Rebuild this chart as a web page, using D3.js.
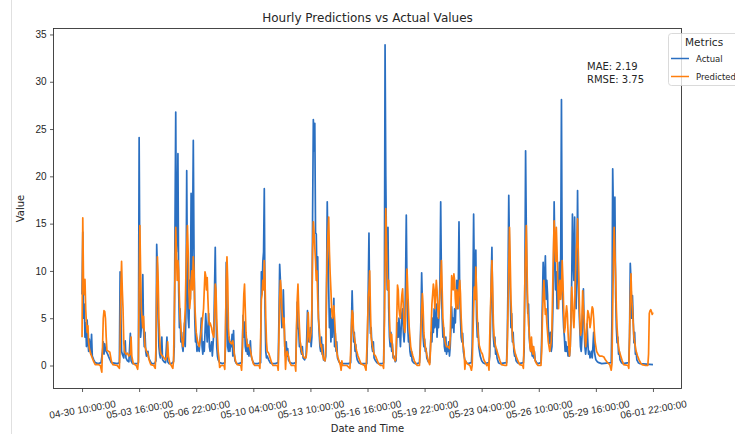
<!DOCTYPE html>
<html>
<head>
<meta charset="utf-8">
<script src="https://cdn.jsdelivr.net/npm/d3@7"></script>
<style>
    body { margin: 0; background: #fff; }
    svg { display: block; font-family: "DejaVu Sans", sans-serif; }
</style>
</head>
<body>
<div id="chart"></div>
<script>
// first timestamp of the series, hour offsets below are counted from it
const startTime = "2024-04-30 10:00:00";
const tickStepHours = 78;
const tickCount = 11;
const seriesNames = ["Actual", "Predicted"];
const metricLines = ["MAE: 2.19", "RMSE: 3.75"];

// [hours since start, value]
const actualPoints = [
    [0,7.5],[1,14.1],[2,5],[3,6.5],[4,3],[5,4.5],[6,2],[7,4.8],[8,2.5],[9,1.5],[10,2.8],[12,1.2],[13,3.3],[14,1],[16,0.6],[18,0.3],
    [22,0.2],[26,0.3],[28,1.5],[29,2.5],[30,1.2],[31,2.3],[32,1.6],[33,1.5],[35,1.2],[37,0.8],[40,0.3],
    [48,0.2],[51,0.3],[52,9.9],[53,6],[54,1.5],[55,1.2],[57,0.8],[59,2.6],[60,0.8],[62,0.5],[64,0.4],[66,3.4],[67,0.5],[69,0.2],[72,0.2],
    [76,0.2],[77,0.3],[78,24.1],[79,10],[80,3],[81,4],[82,6],[83,9.6],[84,4],[85,2],[86,3.5],[87,1.5],[88,1],[90,1.5],[91,0.8],[93,0.5],[95,0.2],
    [99,0.2],[101,0.5],[102,12.8],[103,10],[104,5],[105,2],[106,1.2],[107,0.8],[109,3.0],[110,0.6],[112,0.4],[114,0.3],[116,3.0],[117,0.4],[119,0.2],
    [122,0.2],[125,0.4],[126,2],[127,15],[128,26.8],[129,12],[130,14],[131,22.4],[132,8],[133,4],[134,6],[135,2.5],[136,3.5],[137,2],[138,1.5],[139,3],[140,4.5],[141,2],[142,6],[143,20.6],[144,8],[145,5],[146,4],[147,9],[148,7],[149,18.2],[150,10],[151,14],[152,23.8],[153,11.7],[154,5],[155,2.5],[156,3],[157,1.5],[158,2],[160,1.5],[161,2.5],[162,3.5],[163,5.0],[164,2],[165,1.2],[166,2.5],[167,1.5],[168,3.5],[169,5.5],[170,4],[171,2.5],[172,3.8],[173,5.5],[174,2.0],[175,1.5],[177,2.5],[178,1.0],[180,3.5],[181,8],[182,12.5],[183,6],[184,2],[185,1],[186,0.6],[188,0.3],
    [192,0.2],[195,0.3],[196,2],[197,10.9],[198,6],[199,2],[200,1.5],[201,3],[202,1.5],[203,2.5],[204,2],[205,3.3],[206,1],[207,3.7],[208,1.2],[209,0.5],[211,0.2],
    [214,0.2],[218,0.3],[219,2],[220,5.3],[221,3],[222,4.6],[223,2],[224,1.5],[225,2.8],[226,1.2],[227,2],[228,1],[229,1.8],[230,2.6],[231,1.0],[233,0.5],[235,0.2],
    [240,0.2],[244,0.3],[245,9.9],[246,8],[247,11],[248,12],[249,18.7],[250,6],[251,1.5],[252,0.8],[253,1],[255,0.6],[257,0.3],[259,0.2],
    [264,0.2],[268,0.3],[269,5],[270,10.7],[271,9],[272,6],[273,4],[274,5],[275,8],[276,5],[277,2],[278,1],[279,2.5],[280,1],[281,1.8],[282,0.6],[284,0.3],
    [288,0.2],[292,0.3],[293,3],[294,6.7],[295,4],[296,3.8],[297,2],[298,2.5],[299,1.5],[300,1.2],[301,2],[302,0.8],[304,0.6],[306,1],[307,3],[308,5.8],[309,3],[310,2.5],[311,3],[312,4],
    [313,2],[314,3],[315,16],[316,26.0],[317,22.7],[318,25.6],[319,14],[320,13.9],[321,9],[322,11.5],[323,5],[324,3.4],[325,2],[326,1.5],[327,3],[328,1.2],[329,2.2],[330,0.6],
    [332,0.5],[333,1],[334,8],[335,17.3],[336,12],[337,8],[338,4],[339,6],[340,2.5],[341,5],[342,3],[343,4.5],[344,7.1],[345,2],[346,3.4],[347,1.5],[348,2.5],[349,0.8],[351,0.4],[353,0.2],[355,0.3],[356,0.2],
    [364,0.2],[367,0.3],[368,4],[369,7.9],[370,5],[371,2.5],[372,3.5],[373,1.5],[374,2.2],[375,1],[376,0.6],[378,0.3],[380,0.2],
    [389,0.2],[390,3],[391,8],[392,14.0],[393,6],[394,3.4],[395,4],[396,2],[397,1.5],[398,2.5],[399,0.8],[401,0.5],[403,0.3],[405,0.2],
    [410,0.2],[412,0.3],[413,5],[414,33.9],[415,20],[416,12],[417,8],[418,14.6],[419,6],[420,3],[421,2],[422,3.5],[423,1.5],[424,2.3],[425,0.8],[426,1],[428,0.4],
    [429,0.5],[430,3],[431,4.5],[432,3],[433,5],[434,3.5],[435,2],[436,4],[437,5.5],[438,6],[439,3.5],[440,2.5],[441,4],[442,9],[443,15.9],[444,8],[445,4],[446,2.5],[447,3],[448,1.5],[449,1],[450,1.5],[451,0.5],[453,0.3],[455,0.2],
    [458,0.2],[461,0.3],[462,2],[463,5],[464,9.8],[465,6.5],[466,3],[467,2],[468,2.8],[469,1.5],[470,1.8],[471,0.8],[473,0.4],
    [475,0.3],[476,2],[477,3.5],[478,2.5],[479,5],[480,3.5],[481,6],[482,4],[483,4.5],[484,6.5],[485,3],[486,5],[487,4],[488,6],[489,9],[490,17.3],[491,9],[492,5],[493,3],[494,4],[495,2],[496,1.5],[497,3],[498,1.2],[499,2],[500,1.5],[501,2.5],[502,1],
    [503,2],[504,4],[505,6.2],[506,4],[507,5],[508,3.5],[509,6],[510,4.5],[511,7],[512,9.0],[513,6],[514,8],[515,15.2],[516,7.6],[517,5],[518,3],[519,2.5],[520,3.4],[521,1.5],[522,1],[523,0.6],[525,0.3],[527,0.2],
    [532,0.3],[533,2],[534,8],[535,16.0],[536,9],[537,7],[538,12.2],[539,5],[540,3],[541,4.5],[542,2],[543,1.5],[544,1],[546,0.5],[548,0.3],[550,0.2],
    [556,0.3],[557,1],[558,4],[559,9],[560,12.5],[561,6],[562,3],[563,2],[564,3],[565,1.2],[566,1.8],[567,0.8],[569,0.3],[571,0.2],
    [580,0.3],[581,3],[582,9],[583,18.0],[584,12],[585,8],[586,4],[587,5.5],[588,2.5],[589,3.5],[590,1.5],[591,1],[592,1.2],[593,0.5],[595,0.3],[597,0.2],
    [603,0.3],[604,1.5],[605,9],[606,22.7],[607,14],[608,8],[609,5.5],[610,6.5],[611,3],[612,2],[613,1.5],[614,2.3],[615,1],[616,2],[617,0.8],[618,1.5],[619,0.6],[621,0.3],[623,0.2],
    [627,0.3],[628,3],[629,7],[630,10.9],[631,8],[632,9],[633,11.6],[634,7],[635,9],[636,7.5],[637,4],[638,3],[639,2.3],[640,3.5],[641,1.5],[642,2],[643,5],[644,9],[645,17.3],[646,12],[647,8],[648,9.9],[649,6],[650,6.5],[651,8],[652,10.9],[653,7],[654,12],[655,28.1],[656,9],[657,6],[658,4],[659,3],[660,1.5],[661,2.5],[662,1.5],[663,2],[664,1],[665,1.5],[666,1],[667,2],[668,5],[669,9],[670,16],[671,11],[672,9],[673,15.7],[674,8],[675,6],[676,9],[677,18.5],[678,10],[679,6],[680,4],[681,2],[682,1.5],[683,3],[684,6],[685,8.1],[686,4],[687,2],[688,1.2],[689,2],[690,4.4],[691,2.5],[692,1.2],[693,1.5],[694,0.8],[695,1],[696,1.5],[697,0.8],[698,2],[699,3.5],[700,1.5],[701,1],[702,0.6],[704,0.4],[706,0.3],[710,0.2],
    [723,0.3],[724,5],[725,20.8],[726,16],[727,12],[728,17.8],[729,7.5],[730,4],[731,2.4],[732,3],[733,1.2],[734,1.5],[735,0.6],[737,0.3],[739,0.2],
    [747,0.3],[748,3],[749,10.8],[750,9],[751,5],[752,7.4],[753,5],[754,2.4],[755,3.5],[756,1.2],[757,1.5],[758,0.6],[760,0.3],[762,0.2],[780,0.1]
];

const predictedPoints = [
    [0,3],[1,15.6],[2,9],[3,7.5],[4,9.1],[5,6],[6,4.5],[7,3.5],[8,4.2],[9,2.5],[10,1.8],[12,1.2],[14,0.8],[16,0.4],[18,0.1],
    [22,0.1],[25,0],[27,-0.7],[28,2],[29,5],[30,5.8],[31,5.7],[32,5],[33,3],[34,1.6],[36,1.5],[38,1.4],[40,0.5],[42,0.1],
    [48,0],[51,-0.3],[52,2],[53,8],[54,11],[55,8],[56,6],[57,2.5],[58,1.5],[60,1.2],[62,1.3],[64,1],[66,1.2],[67,3],[68,1],[70,0.2],[74,0],
    [76,-0.4],[77,0.5],[78,8],[79,14.8],[80,10],[81,6],[82,5],[83,4],[84,5.2],[85,3.5],[86,2],[88,1.5],[90,1.2],[92,0.5],[94,0.1],
    [98,0],[100,-0.3],[101,2],[102,8],[103,11.5],[104,9],[105,5],[106,3],[107,1.5],[108,1.2],[110,1.0],[112,0.8],[114,0.6],[116,1.0],[117,2.5],[118,1],[120,0.2],
    [122,0],[124,-0.3],[125,0.5],[126,5],[127,10],[128,14.6],[129,12],[130,9],[131,11.1],[132,10],[133,7],[134,5],[135,4],[136,3],[137,2.5],[138,2],[139,3],[140,4.5],[141,6],[142,10],[143,12.5],[144,14.8],[145,12],[146,8],[147,6],[148,7],[149,9],[150,10],[151,8],[152,11.5],[153,10],[154,6.5],[155,5],[156,3.5],[157,3],[158,2.5],[160,2],[162,3],[164,4.5],[166,6],[167,8],[168,9.9],[169,9.5],[170,8],[171,9.3],[172,7],[173,5],[174,4.3],[175,4.5],[177,4],[178,3.5],[180,3],[181,5],[182,8.6],[183,8],[184,5],[185,3],[186,1.5],[187,0.8],[188,-0.2],[190,0],
    [194,0],[195,-0.4],[196,4],[197,9],[198,11.5],[199,9],[200,4],[201,2.8],[202,2.5],[204,2.3],[206,2.6],[207,2],[208,1.2],[210,0.4],[212,0.1],
    [217,0],[218,-0.5],[219,1.5],[220,5],[221,7.5],[222,8.6],[223,6],[224,3.5],[225,2.5],[226,2],[228,2.2],[230,1.6],[232,0.8],[234,0.2],[236,0],
    [242,0],[243,-0.3],[244,3],[245,7],[246,7.5],[247,9],[248,8],[249,11.1],[250,9],[251,5],[252,2.5],[253,1.5],[255,1.3],[257,0.8],[259,0.3],[261,0],
    [267,0],[268,-0.5],[269,3],[270,7],[271,9],[272,8],[273,6],[274,5],[275,4],[276,5],[277,2],[278,-0.4],[279,1],[280,1.5],[282,1],[284,0.3],[286,0],
    [291,0],[292,-0.6],[293,4],[294,7],[295,8.6],[296,6],[297,4],[298,2.5],[299,2],[300,1.5],[302,1],[304,0.8],[306,0.8],[307,1.5],[308,3],[309,5.6],[310,3.5],[311,2.5],[312,3],
    [313,3.5],[314,6],[315,12],[316,15.2],[317,14],[318,12.5],[319,11],[320,9],[321,10],[322,7],[323,5],[324,4],[325,2.8],[326,2],[327,2.2],[328,1.5],[329,1.0],[330,0.7],
    [332,0.5],[333,2],[334,8],[335,12],[336,14],[337,15.7],[338,12],[339,9.7],[340,8],[341,6],[342,5],[343,5.5],[344,6.3],[345,5],[346,3.5],[347,2],[348,1.5],[349,1],[351,0.5],[353,0],[354,-0.5],[355,0.5],[356,0],
    [362,0],[366,-0.3],[367,1.5],[368,4],[369,5.8],[370,5.5],[371,3.5],[372,3],[373,2.5],[374,2],[375,1.6],[377,1],[379,0.6],[381,0.2],[386,0],
    [388,-0.5],[389,1.5],[390,4],[391,7.2],[392,8],[393,10.0],[394,6],[395,3],[396,2.5],[397,2],[399,1.2],[401,1],[403,0.6],[405,0.2],[408,0],
    [411,0],[412,-0.3],[413,4],[414,10],[415,16.6],[416,13],[417,9.6],[418,8],[419,9],[420,5],[421,3],[422,2.5],[423,3.3],[424,2],[425,1.2],[426,0.8],[428,0.5],
    [429,1],[430,5],[431,8.5],[432,8],[433,6],[434,5.3],[435,5],[436,6.5],[437,7.5],[438,8.1],[439,6],[440,4],[441,3.5],[442,5],[443,7],[444,10.2],[445,8],[446,6],[447,4],[448,3],[449,2],[450,1.6],[452,1],[454,0.5],[456,0.2],[458,0],
    [461,0],[462,1.5],[463,4],[464,6],[465,7.6],[466,6],[467,3.5],[468,2.5],[469,2],[471,1.2],[473,0.5],[475,0.1],
    [476,1.5],[477,4],[478,6.5],[479,7.5],[480,8.6],[481,8],[482,6],[483,7.5],[484,9.0],[485,8],[486,6],[487,5],[488,6],[489,7.5],[490,9],[491,11.1],[492,8],[493,5],[494,4],[495,3],[496,2.5],[497,2.2],[498,2],[500,2],[502,1.8],
    [503,3],[504,6],[505,9.5],[506,9],[507,8],[508,9.7],[509,9],[510,7],[511,6],[512,8],[513,7.5],[514,6],[515,8],[516,9],[517,7.6],[518,5],[519,3.5],[520,2.5],[521,2],[522,1.5],[523,-0.4],[524,0.5],[526,0.2],[530,0],[532,-0.5],
    [533,0],[534,3],[535,6],[536,8.3],[537,7],[538,10.4],[539,8],[540,5],[541,3.5],[542,2.5],[543,2],[545,1.5],[547,1.2],[549,0.6],[551,0.3],[553,0],
    [555,0.2],[556,-0.5],[557,3],[558,6],[559,8.6],[560,11.1],[561,8],[562,4.5],[563,3],[564,2.5],[565,2],[567,1.5],[569,1],[571,0.5],[573,0.1],
    [578,0],[580,0],[581,2],[582,6],[583,10],[584,14.6],[585,11],[586,7],[587,5],[588,3.2],[589,2.5],[590,2],[592,1.2],[594,0.8],[596,0.4],[598,0.1],
    [602,0],[603,-0.3],[604,3],[605,9],[606,12],[607,14.8],[608,10],[609,6],[610,4.4],[611,3.5],[612,2],[613,1.5],[614,3],[615,1.6],[616,1.2],[617,2],[618,1.2],[619,0.5],[621,0.2],[623,0],
    [627,0],[628,1.5],[629,5],[630,7.5],[631,9.0],[632,7],[633,5.4],[634,6],[635,4.5],[636,3.5],[637,2.5],[638,2],[639,1.5],[640,2],[641,2.5],[642,4],[643,8],[644,12],[645,15.3],[646,13],[647,11],[648,14.6],[649,12],[650,8.4],[651,6],[652,8],[653,9],[654,7],[655,8],[656,11.1],[657,9],[658,6],[659,3.5],[660,4],[661,5.5],[662,6.3],[663,5.5],[664,3.5],[665,2],[666,1],[667,2],[668,5],[669,8.3],[670,7],[671,5],[672,4],[673,6],[674,9],[675,12],[676,13],[677,15.5],[678,12],[679,8],[680,5],[681,3.2],[682,3.5],[683,5],[684,7.9],[685,6],[686,5],[687,3],[688,2],[689,3],[690,4.5],[691,5.8],[692,5.5],[693,5],[694,4],[695,4.5],[696,5.5],[697,6.2],[698,6],[699,5],[700,3.5],[701,2.5],[702,2],[703,1.5],[705,1.2],[707,1],[710,1],[713,0.9],[715,0.6],[718,0.3],[721,0.1],[723,-0.5],[724,0.2],
    [725,6],[726,11],[727,14.6],[728,12],[729,9.6],[730,6],[731,4],[732,2.8],[733,2],[734,1.5],[736,1],[738,0.5],[740,0.1],
    [746,0],[747,-0.3],[748,3],[749,7],[750,9.7],[751,7],[752,6],[753,4.5],[754,3],[755,2.5],[756,2],[757,1.5],[759,1],[761,0.6],[763,0.3],[765,0.1],[770,0],
    [773,0],[774,1.2],[775,5.5],[776,5.8],[777,5.9],[778,5.7],[779,5.4],[780,5.6]
];

const colors = ["#2a6fc1", "#ff7f0e"];
const width = 735, height = 434;
const margin = { top: 28.5, right: 53.5, bottom: 45.5, left: 53.5 };
const innerW = width - margin.left - margin.right;
const innerH = height - margin.top - margin.bottom;

const t0 = d3.utcParse("%Y-%m-%d %H:%M:%S")(startTime);
const toDate = h => new Date(t0.getTime() + h * 3600e3);
const fmt = d3.utcFormat("%m-%d %H:%M:%S");

let svg = d3.select("#chart")
    .append("svg")
    .attr("width", width)
    .attr("height", height);

// faint notebook cell border on the left
svg.append("line")
    .attr("x1", 11.5).attr("x2", 11.5)
    .attr("y1", 0).attr("y2", height)
    .attr("stroke", "#e0e0e0");

let g = svg.append("g")
    .attr("transform", `translate(${margin.left},${margin.top})`);

// matplotlib style 5% padding on both axes
const allPoints = actualPoints.concat(predictedPoints);
const hExt = d3.extent(allPoints, d => d[0]);
const vExt = d3.extent(allPoints, d => d[1]);
const hPad = (hExt[1] - hExt[0]) * 0.05;
const vPad = (vExt[1] - vExt[0]) * 0.05;

const x = d3.scaleUtc()
    .domain([toDate(hExt[0] - hPad), toDate(hExt[1] + hPad)])
    .range([0, innerW]);
const y = d3.scaleLinear()
    .domain([vExt[0] - vPad, vExt[1] + vPad])
    .range([innerH, 0]);

const tickDates = d3.range(tickCount).map(i => toDate(i * tickStepHours));

// axes
let xAxisG = g.append("g")
    .attr("transform", `translate(0,${innerH})`)
    .call(d3.axisBottom(x).tickValues(tickDates).tickSize(3.5).tickFormat(fmt));
xAxisG.select(".domain").remove();
xAxisG.selectAll(".tick line").attr("stroke", "#333").attr("stroke-width", 0.8);
xAxisG.selectAll(".tick text")
    .attr("font-size", 10)
    .attr("fill", "#262626")
    .attr("text-anchor", "middle")
    .attr("dy", null)
    .attr("y", null)
    .attr("dominant-baseline", "central")
    .attr("transform", "translate(0,21) rotate(-10)");

let yAxisG = g.append("g")
    .call(d3.axisLeft(y).tickValues(d3.range(0, 36, 5)).tickSize(3.5).tickPadding(3.5));
yAxisG.select(".domain").remove();
yAxisG.selectAll(".tick line").attr("stroke", "#333").attr("stroke-width", 0.8);
yAxisG.selectAll(".tick text").attr("font-size", 10).attr("fill", "#262626");

// series lines
const line = d3.line()
    .x(d => x(toDate(d[0])))
    .y(d => y(d[1]));

g.selectAll(".series")
    .data([actualPoints, predictedPoints])
    .join("path")
    .attr("class", "series")
    .attr("d", line)
    .attr("fill", "none")
    .attr("stroke", (d, i) => colors[i])
    .attr("stroke-width", 1.7)
    .attr("stroke-linejoin", "round");

// frame
g.append("rect")
    .attr("width", innerW)
    .attr("height", innerH)
    .attr("fill", "none")
    .attr("stroke", "#333")
    .attr("stroke-width", 0.9);

// titles
svg.append("text")
    .attr("x", margin.left + innerW / 2)
    .attr("y", 22)
    .attr("text-anchor", "middle")
    .attr("font-size", 12)
    .attr("fill", "#262626")
    .text("Hourly Predictions vs Actual Values");

svg.append("text")
    .attr("x", margin.left + innerW / 2)
    .attr("y", 432)
    .attr("text-anchor", "middle")
    .attr("font-size", 10)
    .attr("fill", "#262626")
    .text("Date and Time");

svg.append("text")
    .attr("transform", `translate(24,${margin.top + innerH / 2}) rotate(-90)`)
    .attr("text-anchor", "middle")
    .attr("font-size", 10)
    .attr("fill", "#262626")
    .text("Value");

// metrics annotation
svg.append("g").selectAll("text")
    .data(metricLines)
    .join("text")
    .attr("x", 587)
    .attr("y", (d, i) => 70 + i * 13)
    .attr("font-size", 10)
    .attr("fill", "#262626")
    .text(d => d);

// legend (runs off the right edge like the original)
let legend = svg.append("g").attr("transform", "translate(668.5,33.5)");
legend.append("rect")
    .attr("width", 90)
    .attr("height", 52)
    .attr("rx", 3)
    .attr("fill", "#fff")
    .attr("fill-opacity", 0.8)
    .attr("stroke", "#d0d0d0")
    .attr("stroke-width", 0.8);
legend.append("text")
    .attr("x", 16.5)
    .attr("y", 12)
    .attr("font-size", 10.5)
    .attr("fill", "#262626")
    .text("Metrics");
let items = legend.selectAll(".item")
    .data(seriesNames)
    .join("g")
    .attr("class", "item")
    .attr("transform", (d, i) => `translate(0,${25 + i * 18})`);
items.append("line")
    .attr("x1", 2.5).attr("x2", 20.5)
    .attr("stroke", (d, i) => colors[i])
    .attr("stroke-width", 1.5);
items.append("text")
    .attr("x", 27.5)
    .attr("y", 3)
    .attr("font-size", 8.5)
    .attr("fill", "#262626")
    .text(d => d);
</script>
</body>
</html>
